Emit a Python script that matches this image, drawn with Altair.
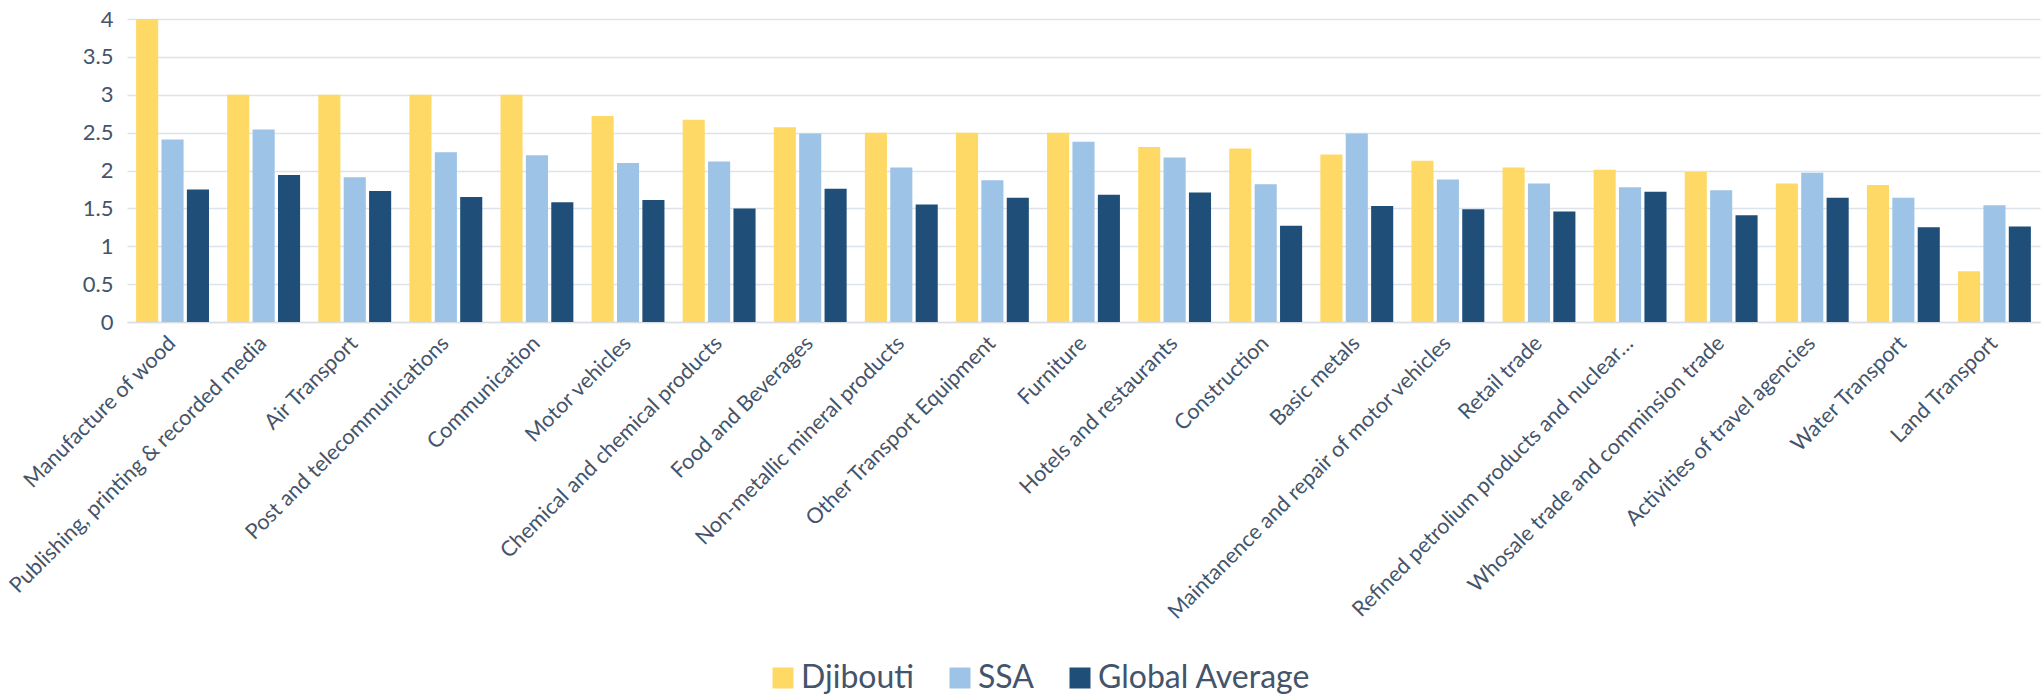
import altair as alt
import pandas as pd

categories = [
    "Manufacture of wood",
    "Publishing, printing & recorded media",
    "Air Transport",
    "Post and telecommunications",
    "Communication",
    "Motor vehicles",
    "Chemical and chemical products",
    "Food and Beverages",
    "Non-metallic mineral products",
    "Other Transport Equipment",
    "Furniture",
    "Hotels and restaurants",
    "Construction",
    "Basic metals",
    "Maintanence and repair of motor vehicles",
    "Retail trade",
    "Refined petrolium products and nuclear…",
    "Whosale trade and comminsion trade",
    "Activities of travel agencies",
    "Water Transport",
    "Land Transport",
]
series = ["Djibouti", "SSA", "Global Average"]
djibouti = [4.0, 3.0, 3.0, 3.0, 3.0, 2.72, 2.67, 2.57, 2.50, 2.50, 2.50, 2.31, 2.29, 2.21,
            2.13, 2.04, 2.01, 1.98, 1.83, 1.81, 0.67]
ssa = [2.41, 2.54, 1.91, 2.24, 2.20, 2.10, 2.12, 2.49, 2.04, 1.87, 2.38, 2.17, 1.82, 2.49,
       1.88, 1.83, 1.78, 1.74, 1.97, 1.64, 1.54]
global_avg = [1.75, 1.94, 1.73, 1.65, 1.58, 1.61, 1.50, 1.76, 1.55, 1.64, 1.68, 1.71, 1.27, 1.53,
              1.49, 1.46, 1.72, 1.41, 1.64, 1.25, 1.26]
colors = ["#FFD966", "#9DC3E6", "#1F4E79"]
y_ticks = [0, 0.5, 1, 1.5, 2, 2.5, 3, 3.5, 4]

rows = []
for s, vals in zip(series, [djibouti, ssa, global_avg]):
    for c, v in zip(categories, vals):
        rows.append({"category": c, "series": s, "value": v})
df = pd.DataFrame(rows)

FONT = "Lato"
TEXT = "#44546A"

chart = (
    alt.Chart(df)
    .mark_bar()
    .encode(
        x=alt.X(
            "category:N",
            sort=categories,
            scale=alt.Scale(paddingInner=0.2, paddingOuter=0.1),
            axis=alt.Axis(
                title=None,
                labelAngle=-45,
                labelAlign="right",
                labelBaseline="middle",
                labelPadding=18,
                ticks=False,
                grid=False,
                domain=True,
                domainColor="#D9DEE5",
                domainWidth=1.5,
                labelFontSize=21.5,
                labelColor=TEXT,
                labelFont=FONT,
                labelLimit=800,
            ),
        ),
        xOffset=alt.XOffset("series:N", sort=series, scale=alt.Scale(paddingInner=0.13)),
        y=alt.Y(
            "value:Q",
            scale=alt.Scale(domain=[0, 4], nice=False),
            axis=alt.Axis(
                title=None,
                values=y_ticks,
                format="~g",
                ticks=False,
                domain=False,
                gridColor="#DDE3EA",
                gridWidth=1.5,
                labelPadding=14,
                labelFontSize=22,
                labelColor=TEXT,
                labelFont=FONT,
            ),
        ),
        color=alt.Color(
            "series:N",
            sort=series,
            scale=alt.Scale(domain=series, range=colors),
            legend=alt.Legend(
                title=None,
                orient="none",
                direction="horizontal",
                legendX=640,
                legendY=643,
                symbolType="square",
                symbolSize=441,
                symbolStrokeWidth=0,
                labelFontSize=32,
                labelFont=FONT,
                labelColor=TEXT,
                labelOffset=2,
                labelLimit=600,
                columnPadding=30,
            ),
        ),
    )
    .properties(
        width=1913,
        height=303,
        background="white",
        autosize=alt.AutoSizeParams(type="none"),
        padding={"left": 127, "top": 19, "right": 4, "bottom": 373},
    )
    .configure_view(stroke="transparent", strokeWidth=0)
)

chart.save("out.html", embed_options={"renderer": "svg", "actions": False})
